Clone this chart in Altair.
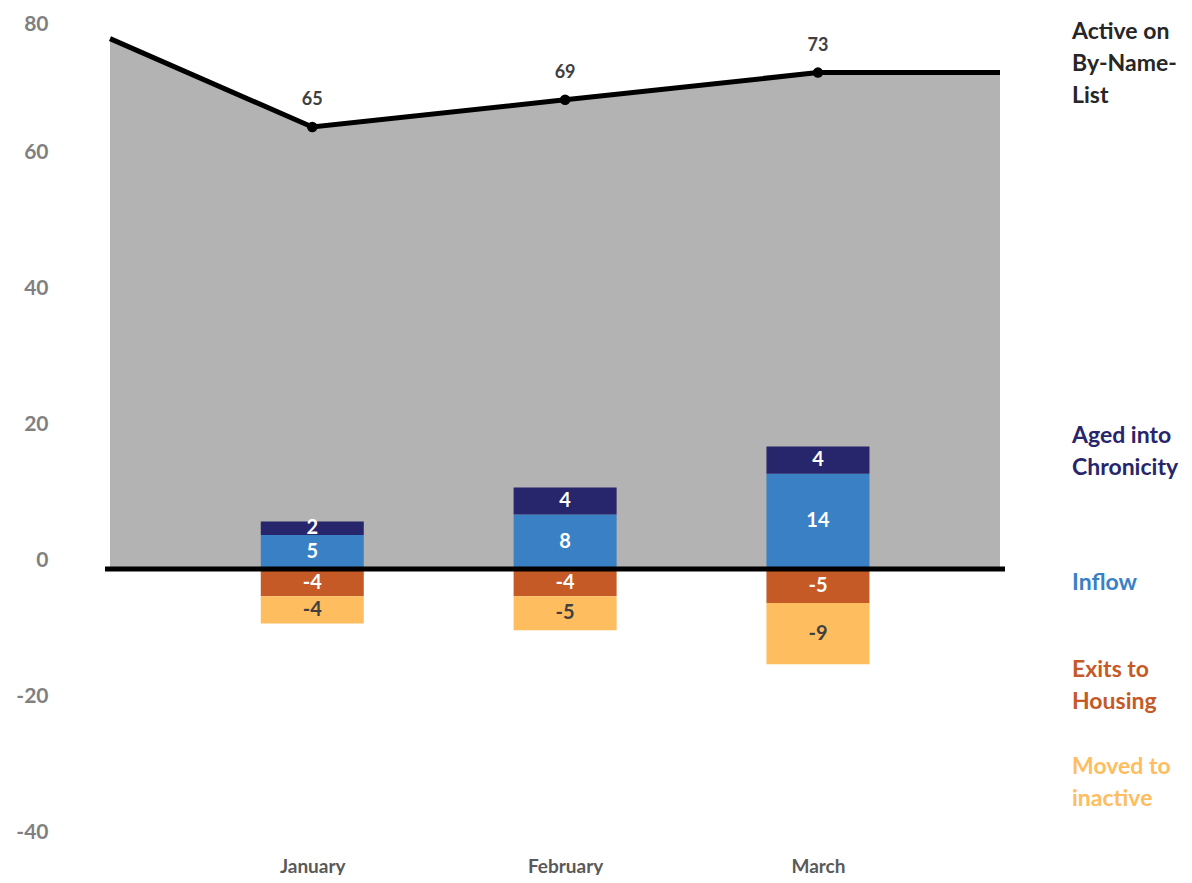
import altair as alt
import pandas as pd

FONT = "Lato"

months = ["January", "February", "March"]
month_pos = [0, 1, 2]

# active on by-name list (line/area), including the clipped edge points
area_pos = [-0.8, 0, 1, 2, 2.72]
area_vals = [78, 65, 69, 73, 73]
active = [65, 69, 73]

inflow = [5, 8, 14]
aged = [2, 4, 4]
exits = [-4, -4, -5]
inactive = [-4, -5, -9]

series_names = ["Inflow", "Aged into Chronicity", "Exits to Housing", "Moved to inactive"]
series_colors = ["#3A80C5", "#27256B", "#C55A27", "#FEBD5E"]
label_colors = ["#FFFFFF", "#FFFFFF", "#FFFFFF", "#404040"]

legend_text = ["Active on\nBy-Name-\nList", "Aged into\nChronicity", "Inflow",
               "Exits to\nHousing", "Moved to\ninactive"]
legend_y = [79.0, 19.6, -2.1, -14.9, -29.1]
legend_colors = ["#262626", "#27256B", "#3A80C5", "#C55A27", "#FEBD5E"]

y_ticks = [-40, -20, 0, 20, 40, 60, 80]

area_df = pd.DataFrame({"x": area_pos, "v": area_vals})
pts_df = pd.DataFrame({"x": month_pos, "v": active, "month": months})
pts_df["label"] = pts_df["v"].astype(str)

rows = []
for i, m in enumerate(months):
    for k, (name, vals) in enumerate(zip(series_names, [inflow, aged, exits, inactive])):
        rows.append({"x": month_pos[i], "month": m, "series": name, "value": vals[i],
                     "label": str(vals[i]), "order": k})
bars_df = pd.DataFrame(rows)

leg_df = pd.DataFrame({"text": legend_text, "v": legend_y, "color": legend_colors})

xscale = alt.Scale(domain=[-0.8, 2.72], nice=False, zero=False)
yscale = alt.Scale(domain=[-40, 80], nice=False)

label_expr = "[" + ",".join("'" + m + "'" for m in months) + "][datum.value]"

x_axis = alt.Axis(values=month_pos, labelExpr=label_expr, title=None, domain=False, ticks=False,
                  grid=False, labelFont=FONT, labelFontWeight="bold", labelFontSize=19,
                  labelColor="#595959", labelPadding=16, labelAngle=0)
y_axis = alt.Axis(values=y_ticks, labelExpr="'' + datum.value", title=None, domain=False,
                  ticks=False, grid=False, labelFont=FONT, labelFontWeight="bold",
                  labelFontSize=21, labelColor="#808080", labelPadding=57,
                  labelOffset=alt.condition("datum.value == 80", alt.value(-1), alt.value(-9)))

area = alt.Chart(area_df).mark_area(color="#B3B3B3", line=False).encode(
    x=alt.X("x:Q", scale=xscale, axis=x_axis),
    y=alt.Y("v:Q", scale=yscale, axis=y_axis),
)
line = alt.Chart(area_df).mark_line(color="black", strokeWidth=5).encode(
    x=alt.X("x:Q", scale=xscale),
    y=alt.Y("v:Q", scale=yscale),
)
pts = alt.Chart(pts_df).mark_point(filled=True, color="black", size=110, opacity=1).encode(
    x=alt.X("x:Q", scale=xscale),
    y=alt.Y("v:Q", scale=yscale),
)
pt_labels = alt.Chart(pts_df).mark_text(font=FONT, fontWeight="bold", fontSize=18, color="#404040",
                                        dy=-27, baseline="middle").encode(
    x=alt.X("x:Q", scale=xscale),
    y=alt.Y("v:Q", scale=yscale),
    text="label:N",
)

stacked = alt.Chart(bars_df).transform_stack(
    stack="value", groupby=["x"], sort=[alt.SortField("order")], as_=["v0", "v1"]
).transform_calculate(mid="(datum.v0 + datum.v1) / 2")

bars = stacked.mark_bar(width=103).encode(
    x=alt.X("x:Q", scale=xscale),
    y=alt.Y("v0:Q", scale=yscale),
    y2="v1:Q",
    color=alt.Color("series:N", scale=alt.Scale(domain=series_names, range=series_colors), legend=None),
)
bar_labels = stacked.mark_text(font=FONT, fontWeight="bold", fontSize=20, baseline="middle").encode(
    x=alt.X("x:Q", scale=xscale),
    y=alt.Y("mid:Q", scale=yscale),
    text="label:N",
    color=alt.Color("series:N", scale=alt.Scale(domain=series_names, range=label_colors), legend=None),
)

zero = alt.Chart(pd.DataFrame({"v": [0]})).mark_rule(color="black", strokeWidth=5).encode(
    y=alt.Y("v:Q", scale=yscale)
)

legend = alt.Chart(leg_df).mark_text(font=FONT, fontWeight="bold", fontSize=23, align="left",
                                     baseline="middle", lineHeight=32, lineBreak="\n",
                                     clip=False).encode(
    x=alt.value(967),
    y=alt.Y("v:Q", scale=yscale),
    text="text:N",
    color=alt.Color("color:N", scale=None, legend=None),
)

chart = alt.layer(area, line, bars, bar_labels, zero, pts, pt_labels, legend).resolve_scale(
    color="independent"
).properties(
    width=900, height=816,
    autosize=alt.AutoSizeParams(type="none"),
    padding={"left": 97, "top": 17, "right": 179, "bottom": 34},
).configure_view(stroke=None)

chart.save("out.html", embed_options={"renderer": "svg", "actions": False})
